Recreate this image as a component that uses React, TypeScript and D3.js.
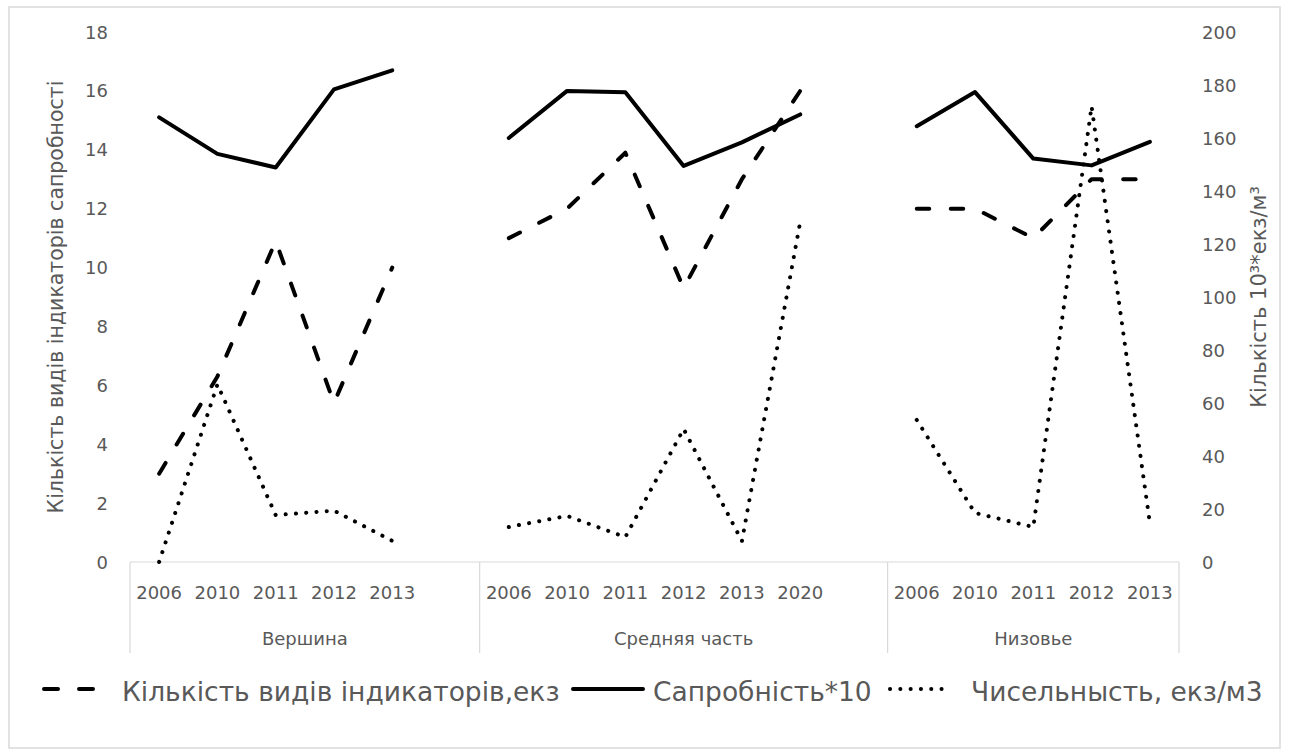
import React from "react";
import * as d3 from "d3";

const groups = ["Вершина", "Средняя часть", "Низовье"];
const groupYears = [
  ["2006", "2010", "2011", "2012", "2013"],
  ["2006", "2010", "2011", "2012", "2013", "2020"],
  ["2006", "2010", "2011", "2012", "2013"],
];
// left axis
const indicatorSpecies = [
  [3, 6.3, 10.9, 5.4, 10],
  [11, 12, 13.9, 9.3, 13, 16],
  [12, 12, 11, 13, 13],
];
// left axis
const saprobity10 = [
  [15.1, 13.86, 13.4, 16.05, 16.7],
  [14.4, 16.0, 15.95, 13.45, 14.25, 15.2],
  [14.8, 15.96, 13.7, 13.47, 14.27],
];
// right axis
const abundance = [
  [0, 67, 17.7, 19.4, 8],
  [13.2, 17.4, 9.4, 50.2, 7.9, 128.3],
  [53.6, 18.5, 13.2, 172, 14.7],
];
const leftTicks = [0, 2, 4, 6, 8, 10, 12, 14, 16, 18];
const rightTicks = [0, 20, 40, 60, 80, 100, 120, 140, 160, 180, 200];
const seriesNames = [
  "Кількість видів індикаторів,екз",
  "Сапробність*10",
  "Чисельнысть, екз/м3",
];
const leftTitle = "Кількість видів індикаторів сапробності";
const rightTitle = "Кількість 10³*екз/м³";

const W = 1289;
const H = 756;
const TEXT = "#595959";
const AXIS = "#d9d9d9";
const FONT = "'DejaVu Sans', sans-serif";

const DASH = "12.5 21.5";
const DOT = "0.1 10.2";
const LW = 4;

export default function App() {
  const slotKeys: string[] = [];
  groups.forEach((g, gi) => {
    groupYears[gi].forEach((yr) => slotKeys.push(g + "|" + yr));
    if (gi < groups.length - 1) slotKeys.push("gap" + gi);
  });
  const x = d3.scaleBand<string>().domain(slotKeys).range([130, 1179]).padding(0);
  const bw = x.bandwidth();
  const cx = (k: string) => (x(k) as number) + bw / 2;
  const yL = d3.scaleLinear().domain([0, 18]).range([562, 32]);
  const yR = d3.scaleLinear().domain([0, 200]).range([562, 32]);

  const seps: number[] = [130];
  groups.forEach((g, gi) => {
    if (gi < groups.length - 1) seps.push((x("gap" + gi) as number) + bw);
  });
  seps.push(1179);

  const mkLine = (vals: number[], gi: number, y: d3.ScaleLinear<number, number>) => {
    const pts: [number, number][] = vals.map((v, i) => [cx(groups[gi] + "|" + groupYears[gi][i]), y(v)]);
    return d3.line()(pts) as string;
  };

  return (
    <svg
      width={W}
      height={H}
      style={{ position: "absolute", left: 0, top: 0, background: "#fff" }}
      fontFamily={FONT}
    >
      <rect x={0} y={0} width={W} height={H} fill="#fff" />
      <rect x={9} y={7} width={1271} height={741} fill="none" stroke={AXIS} strokeWidth={1.5} />

      {/* category axis */}
      <line x1={130} x2={1179} y1={562} y2={562} stroke={AXIS} strokeWidth={1.2} />
      {seps.map((s, i) => (
        <line key={"sep" + i} x1={s} x2={s} y1={562} y2={653} stroke={AXIS} strokeWidth={1.2} />
      ))}
      {slotKeys
        .filter((k) => k.includes("|"))
        .map((k) => (
          <text key={"yr" + k} x={cx(k)} y={599} textAnchor="middle" fontSize={18} fill={TEXT}>
            {k.split("|")[1]}
          </text>
        ))}
      {groups.map((g, gi) => (
        <text key={"g" + g} x={(seps[gi] + seps[gi + 1]) / 2} y={645} textAnchor="middle" fontSize={18} fill={TEXT}>
          {g}
        </text>
      ))}

      {/* left ticks */}
      {leftTicks.map((t) => (
        <text key={"l" + t} x={108} y={yL(t) + 6.5} textAnchor="end" fontSize={18} fill={TEXT}>
          {t}
        </text>
      ))}
      {rightTicks.map((t) => (
        <text key={"r" + t} x={1202} y={yR(t) + 6.5} textAnchor="start" fontSize={18} fill={TEXT}>
          {t}
        </text>
      ))}

      <text
        transform={`translate(63,${(yL(0) + yL(18)) / 2}) rotate(-90)`}
        textAnchor="middle"
        fontSize={20.5}
        fill={TEXT}
      >
        {leftTitle}
      </text>
      <text
        transform={`translate(1266,${(yL(0) + yL(18)) / 2}) rotate(-90)`}
        textAnchor="middle"
        fontSize={21}
        fill={TEXT}
      >
        {rightTitle}
      </text>

      {/* series */}
      {groups.map((g, gi) => (
        <g key={"s" + g} fill="none" stroke="#000" strokeWidth={LW} strokeLinejoin="round" strokeLinecap="round">
          <path d={mkLine(saprobity10[gi], gi, yL)} />
          <path d={mkLine(indicatorSpecies[gi], gi, yL)} strokeDasharray={DASH} />
          <path d={mkLine(abundance[gi], gi, yR)} strokeDasharray={DOT} />
        </g>
      ))}

      {/* legend */}
      <g fill="none" stroke="#000" strokeWidth={LW} strokeLinecap="round">
        <line x1={44} x2={95} y1={689} y2={689} strokeDasharray="14 21" />
        <line x1={573} x2={643} y1={689} y2={689} />
        <line x1={890} x2={950} y1={689} y2={689} strokeDasharray={DOT} />
      </g>
      <text x={122} y={701} fontSize={26.5} fill={TEXT}>{seriesNames[0]}</text>
      <text x={653} y={701} fontSize={26.5} fill={TEXT}>{seriesNames[1]}</text>
      <text x={971} y={701} fontSize={26.5} fill={TEXT}>{seriesNames[2]}</text>
    </svg>
  );
}
